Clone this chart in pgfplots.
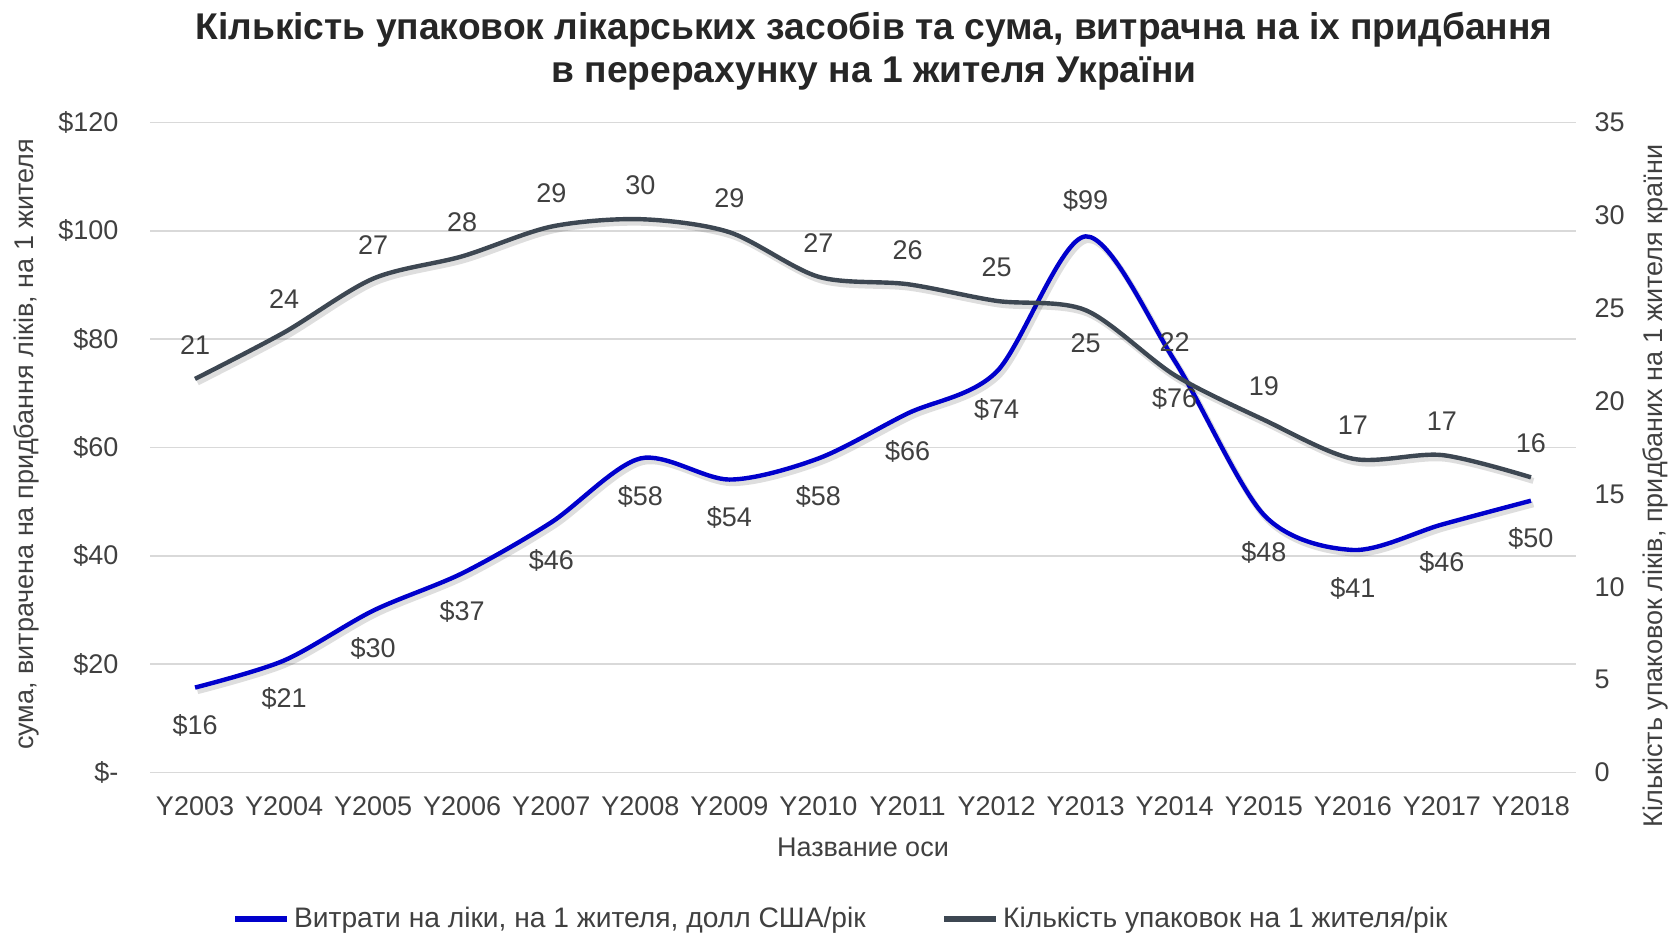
\documentclass[border=0pt]{standalone}
\usepackage{pgfplots}
\pgfplotsset{compat=1.18}
\usepackage{fontspec}
\setmainfont{Liberation Sans}
\definecolor{cblue}{HTML}{0000CC}
\definecolor{cgray}{HTML}{3D4752}
\definecolor{ctext}{HTML}{404040}
\definecolor{cgrid}{HTML}{D9D9D9}
\newcommand{\fs}{\fontsize{13.5}{16}\selectfont}
\pgfplotsset{
 base/.style={
  width=712.5pt, height=325pt, scale only axis,
  at={(0,0)}, anchor=south west,
  xmin=-0.5, xmax=15.5,
  clip=false,
  axis line style={draw=none},
  tick style={draw=none},
  ticklabel style={font=\fs, text=ctext},
 },
 lab/.style={draw=none, mark=none, forget plot, nodes near coords, point meta=explicit symbolic,
   every node near coord/.style={font=\fs, text=ctext}},
 shad/.style={smooth, tension=0.5, draw=black, opacity=0.13, line width=3pt, forget plot, xshift=1.2pt, yshift=-1.8pt},
}
\begin{document}
\begin{tikzpicture}
\begin{axis}[base,
  ymin=0, ymax=120, ytick={0,20,...,120},
  yticklabels={\$-,\$20,\$40,\$60,\$80,\$100,\$120},
  yticklabel style={anchor=east, xshift=-12.5pt},
  ymajorgrids, grid style={cgrid, line width=0.8pt},
  xtick={0,...,15},
  xticklabels={Y2003,Y2004,Y2005,Y2006,Y2007,Y2008,Y2009,Y2010,Y2011,Y2012,Y2013,Y2014,Y2015,Y2016,Y2017,Y2018},
  xticklabel style={anchor=center, yshift=-17pt},
  xlabel={Название оси},
  xlabel style={at={(axis description cs:0.5,-0.1145)}, anchor=center, font=\fs, text=ctext},
  ylabel={сума, витрачена на придбання ліків, на 1 жителя},
  ylabel style={at={(axis description cs:-0.0869,0.505)}, anchor=center, font=\fs, text=ctext},
]
\addplot[shad] coordinates {(0,15.7)(1,20.7)(2,29.9)(3,36.8)(4,46.2)(5,58)(6,54.1)(7,58)(8,66.3)(9,74)(10,99)(11,76)(12,47.6)(13,41.1)(14,45.8)(15,50.2)};
\addplot[smooth, tension=0.5, cblue, line width=2.2pt] coordinates {(0,15.7)(1,20.7)(2,29.9)(3,36.8)(4,46.2)(5,58)(6,54.1)(7,58)(8,66.3)(9,74)(10,99)(11,76)(12,47.6)(13,41.1)(14,45.8)(15,50.2)};
\addplot[lab, every node near coord/.append style={anchor=north, yshift=-10pt}] coordinates {
(0,15.7)[\$16] (1,20.7)[\$21] (2,29.9)[\$30] (3,36.8)[\$37] (4,46.2)[\$46] (5,58)[\$58] (6,54.1)[\$54] (7,58)[\$58] (8,66.3)[\$66] (9,74)[\$74] (11,76)[\$76] (12,47.6)[\$48] (13,41.1)[\$41] (14,45.8)[\$46] (15,50.2)[\$50]};
\addplot[lab, every node near coord/.append style={anchor=south, yshift=9pt}] coordinates {(10,99)[\$99]};
\end{axis}
\begin{axis}[base,
  axis x line=none, axis y line*=right,
  ymin=0, ymax=35, ytick={0,5,...,35},
  yticklabels={0,5,10,15,20,25,30,35},
  yticklabel style={anchor=west, xshift=6pt},
  ylabel={Кількість упаковок ліків, придбаних на 1 жителя країни},
  ylabel style={at={(axis description cs:1.0558,0.441)}, anchor=center, rotate=0, font=\fs, text=ctext},
  legend style={at={(axis description cs:0.4853,-0.2252)}, anchor=center, draw=none, fill=none,
    legend columns=2, font=\fontsize{14.1}{16}\selectfont, text=ctext,
    /tikz/every even column/.append style={column sep=36pt}},
  legend image code/.code={\draw[#1, line width=2.7pt] (0pt,0pt) -- (26pt,0pt);},
]
\addlegendimage{cblue}
\addlegendentry{Витрати на ліки, на 1 жителя, долл США/рік}
\addplot[shad] coordinates {(0,21.2)(1,23.7)(2,26.6)(3,27.8)(4,29.4)(5,29.8)(6,29.1)(7,26.7)(8,26.3)(9,25.4)(10,24.9)(11,21.4)(12,19.0)(13,16.9)(14,17.1)(15,15.9)};
\addplot[smooth, tension=0.5, cgray, line width=2.2pt] coordinates {(0,21.2)(1,23.7)(2,26.6)(3,27.8)(4,29.4)(5,29.8)(6,29.1)(7,26.7)(8,26.3)(9,25.4)(10,24.9)(11,21.4)(12,19.0)(13,16.9)(14,17.1)(15,15.9)};
\addlegendentry{Кількість упаковок на 1 жителя/рік}
\addplot[lab, every node near coord/.append style={anchor=south, yshift=8.5pt}] coordinates {
(0,21.2)[21] (1,23.7)[24] (2,26.6)[27] (3,27.8)[28] (4,29.4)[29] (5,29.8)[30] (6,29.1)[29] (7,26.7)[27] (8,26.3)[26] (9,25.4)[25] (11,21.4)[22] (12,19.0)[19] (13,16.9)[17] (14,17.1)[17] (15,15.9)[16]};
\addplot[lab, every node near coord/.append style={anchor=north, yshift=-8pt}] coordinates {(10,24.9)[25]};
\node[font=\fontsize{18.6}{21.3}\selectfont\bfseries, text=black!85, align=center, anchor=center] at (axis description cs:0.5077,1.1098) {Кількість упаковок лікарських засобів та сума, витрачна на іх придбання\\в перерахунку на 1 жителя України};
\end{axis}
\pgfresetboundingbox
\path[use as bounding box] (-75.25pt,-80.7pt) rectangle (760.25pt,386.3pt);
\end{tikzpicture}
\end{document}
